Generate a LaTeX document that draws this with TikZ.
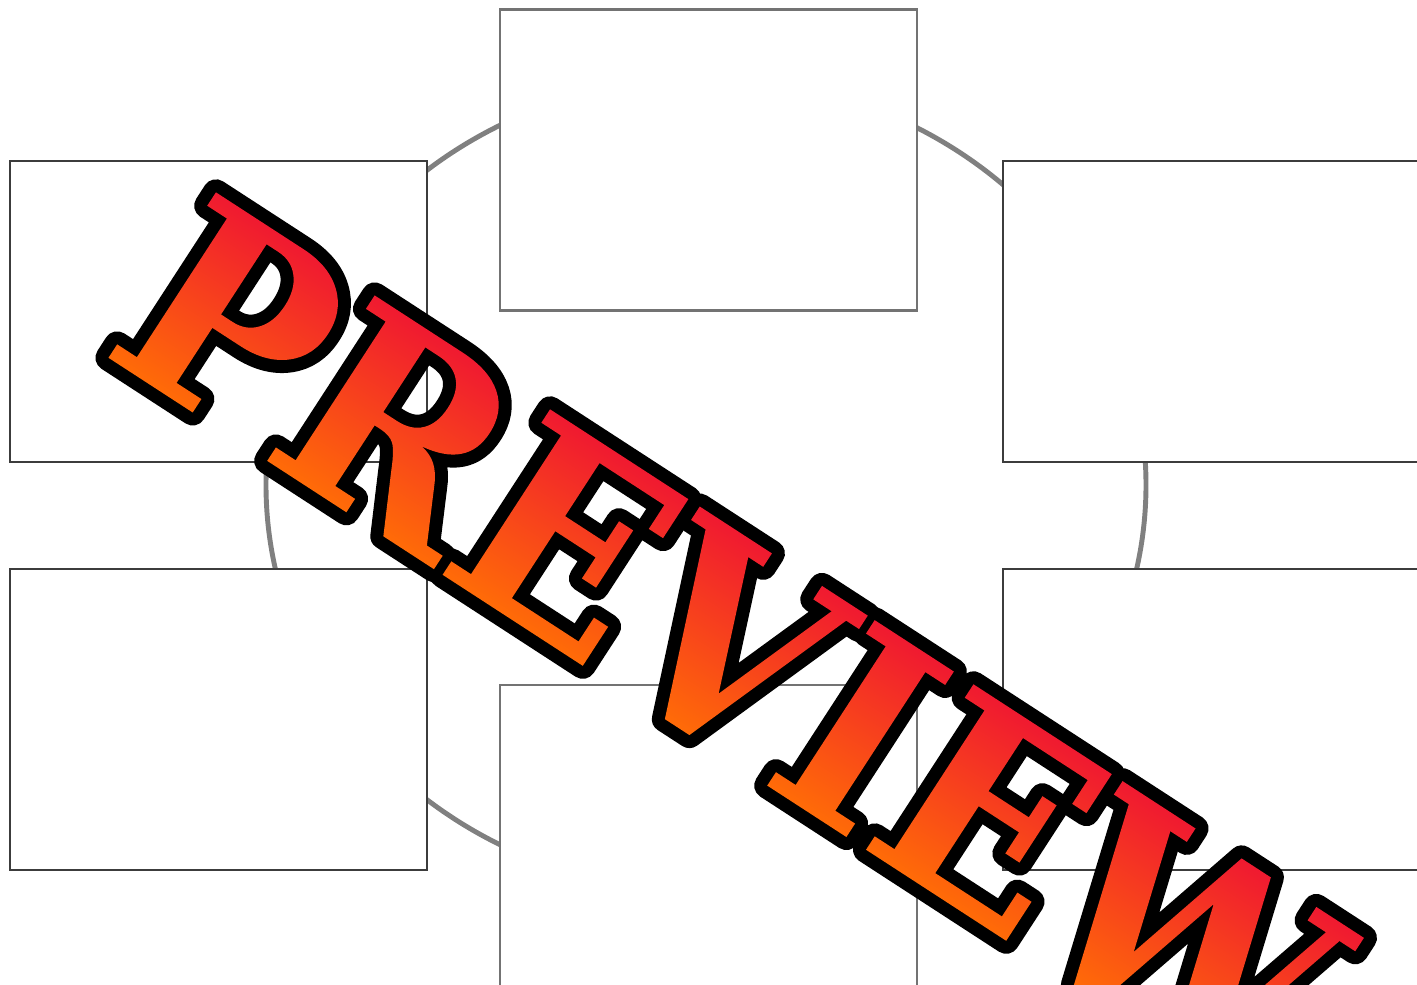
\documentclass[tikz,border=0pt]{standalone}
\usepackage{fontspec}
\newfontfamily\previewfont{DejaVu Serif Bold}[FakeStretch=0.93]
\usepackage{xcolor}
\usepackage{tikz}
\usetikzlibrary{
  positioning
}
\definecolor{ringgray}{RGB}{128,128,128}
\definecolor{boxdark}{RGB}{60,60,60}
\definecolor{boxgray}{RGB}{115,115,115}
\definecolor{markfill}{RGB}{248,64,32}
% outlined lettering: black rim below, gradient fill on top
% (gradient in page space: orange at baseline, red at cap height)
\newcommand{\outlined}[1]{%
  \special{pdf:obj @markgrad << /PatternType 2 /Shading << /ShadingType 2
    /ColorSpace /DeviceRGB /Coords [27.8 179.7 58.3 226.7]
    /Function << /FunctionType 2 /Domain [0 1] /C0 [1 0.42 0.03] /C1 [0.94 0.1 0.19] /N 1 >>
    /Extend [true true] >> >>}%
  \special{pdf:put @resources << /Pattern << /MarkGrad @markgrad >> >>}%
  \rlap{\special{pdf:code 0 0 0 rg 0 0 0 RG 2 Tr 7.4 w 1 j}#1}%
  \special{pdf:code /Pattern cs /MarkGrad scn /Pattern CS /MarkGrad SCN 2 Tr 4.6 w 1 j}#1%
  \special{pdf:code 0 Tr}}
\tikzset{
  panel/.style={
    draw=boxdark, fill=white, line width=0.6pt, inner sep=0pt,
    minimum width=4.17cm, minimum height=3.01cm
  },
  midpanel/.style={
    panel, draw=boxgray, line width=0.75pt
  },
  ring/.style={
    draw=ringgray, line width=1.4pt
  },
  markfont/.style={
    font=\previewfont\fontsize{77}{80}\selectfont,
    inner sep=0pt, anchor=base west, text=markfill
  }
}

\begin{document}
\begin{tikzpicture}
  \useasboundingbox (0,0) rectangle (14.17,9.85);

  \coordinate (hub) at (7.06,5.00);
  \draw[ring] (hub) ellipse [x radius=4.40, y radius=4.07];

  \node[midpanel] (top) at (7.085,8.25) {};
  \node[panel] (upleft) at (2.185,6.735) {};
  \node[panel] (upright) at (12.115,6.735) {};
  \node[panel, below=1.05cm of upleft] (lowleft) {};
  \node[panel, below=1.05cm of upright] (lowright) {};
  \node[midpanel] (bottom) at (7.085,1.495) {};

  % watermark
  \begin{scope}[transform canvas={shift={(0.98,6.34)}, rotate=-33}]
    \node[markfont] (mark) at (0,0) {\outlined{PREVIEW}};
  \end{scope}
\end{tikzpicture}
\end{document}
